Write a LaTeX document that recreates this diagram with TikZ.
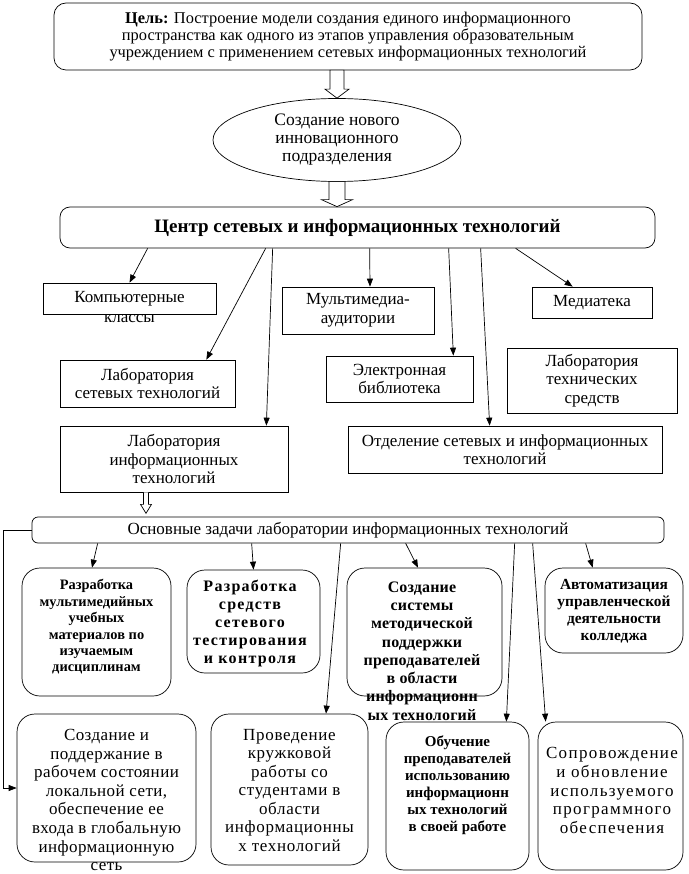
\documentclass[tikz,border=0pt]{standalone}
\usepackage{fontspec}
\setmainfont{Liberation Serif}
\usetikzlibrary{positioning, shapes.geometric, arrows.meta, calc}

\tikzset{
  box/.style={rectangle, draw, inner sep=1pt, align=center},
  capbox/.style={rectangle, draw, rounded corners=12pt, inner sep=1pt, align=center},
  taskbox/.style={rectangle, draw, rounded corners=18pt, inner sep=0pt},
  txt/.style={align=center, inner sep=0pt},
  arr/.style={-{Triangle[length=8pt,width=6pt]}},
  hollow/.style={draw, fill=white}
}

\begin{document}
\begin{tikzpicture}[x=1pt, y=-1pt, line width=0.7pt, font=\fontsize{17}{18.5}\selectfont]
\useasboundingbox (0,0) rectangle (688,874);

% Цель
\node[capbox, minimum width=588pt, minimum height=67pt, font=\fontsize{16.4}{17}\selectfont] (goal) at (348,36.5)
  {\textbf{Цель:} Построение модели создания единого информационного\\
   пространства как одного из этапов управления образовательным\\
   учреждением с применением сетевых информационных технологий};

% Новое подразделение
\node[ellipse, draw, minimum width=248pt, minimum height=83pt, inner sep=0pt, align=center, font=\fontsize{17.5}{18}\selectfont] (novoe) at (337,140)
  {Создание нового\\ инновационного\\ подразделения};

% Центр
\node[capbox, rounded corners=10pt, minimum width=595pt, minimum height=41pt, font=\bfseries\fontsize{19}{22}\selectfont] (centr) at (357.5,227.5)
  {Центр сетевых и информационных технологий};

% Подразделения центра
\node[box, minimum width=173pt, minimum height=31pt] (komp) at (129.5,298.5) {};
\node[txt, font=\fontsize{17}{20}\selectfont] (kompt) at (129.5,307) {Компьютерные\\ классы};
\node[box, minimum width=175pt, minimum height=47pt] (labset) at (147.5,383.5) {Лаборатория\\ сетевых технологий};
\node[box, minimum width=228pt, minimum height=66pt] (labinf) at (174,459) {Лаборатория\\ информационных\\ технологий};
\node[box, minimum width=152pt, minimum height=47pt] (multi) at (358,310.5) {Мультимедиа-\\ аудитории};
\node[box, minimum width=147pt, minimum height=46pt] (elib) at (399.5,379) {Электронная\\ библиотека};
\node[box, minimum width=314pt, minimum height=47pt] (otdel) at (505,449.5) {Отделение сетевых и информационных\\ технологий};
\node[box, minimum width=120pt, minimum height=31pt] (media) at (592,302.5) {Медиатека};
\node[box, minimum width=170pt, minimum height=65pt] (labtech) at (592,380.5) {Лаборатория\\ технических\\ средств};

\draw[arr] ([xshift=88pt]centr.south west) -- (komp.north);
\draw[arr] ([xshift=206pt]centr.south west) -- ([xshift=-29pt]labset.north east);
\draw[arr] ([xshift=213pt]centr.south west) -- ([xshift=-22pt]labinf.north east);
\draw[arr] ([xshift=310pt]centr.south west) -- ([xshift=12pt]multi.north);
\draw[arr] ([xshift=389pt]centr.south west) -- ([xshift=-20pt]elib.north east);
\draw[arr] ([xshift=421pt]centr.south west) -- ([xshift=142pt]otdel.north west);
\draw[arr] ([xshift=456pt]centr.south west) -- ([xshift=41pt]media.north west);

% Задачи лаборатории
\node[capbox, rounded corners=6pt, minimum width=632pt, minimum height=26pt] (zadachi) at (348,530)
  {Основные задачи лаборатории информационных технологий};

\node[taskbox, minimum width=149pt, minimum height=128pt] (r1) at (96.5,632) {};
\node[taskbox, minimum width=133pt, minimum height=103pt] (r2) at (253.5,621.5) {};
\node[taskbox, minimum width=155pt, minimum height=128pt] (r3) at (424.5,632) {};
\node[taskbox, minimum width=138pt, minimum height=85pt] (r4) at (614,610.5) {};
\node[taskbox, minimum width=179pt, minimum height=148pt] (r5) at (106.5,788) {};
\node[taskbox, minimum width=157pt, minimum height=151pt] (r6) at (289.5,789.5) {};
\node[taskbox, minimum width=143pt, minimum height=148pt] (r7) at (457.5,796) {};
\node[taskbox, minimum width=145pt, minimum height=148pt] (r8) at (610.5,796) {};

\node[txt, font=\bfseries\fontsize{14.4}{16.4}\selectfont] (r1t) at (96.5,627)
  {Разработка\\ мультимедийных\\ учебных\\ материалов по\\ изучаемым\\ дисциплинам};
\node[txt, font=\bfseries\fontsize{16}{18.2}\selectfont\addfontfeature{LetterSpace=8}] (r2t) at (250,623.5)
  {Разработка\\ средств\\ сетевого\\ тестирования\\ и контроля};
\node[txt, font=\bfseries\fontsize{16}{18.3}\selectfont\addfontfeature{LetterSpace=1}] (r3t) at (422,651)
  {Создание\\ системы\\ методической\\ поддержки\\ преподавателей\\ в области\\ информационн\\ ых технологий};
\node[txt, font=\bfseries\fontsize{15.4}{17}\selectfont] (r4t) at (614,611.5)
  {Автоматизация\\ управленческой\\ деятельности\\ колледжа};
\node[txt, font=\fontsize{17}{18.6}\selectfont\addfontfeature{LetterSpace=2.5}] (r5t) at (106.5,800)
  {Создание и\\ поддержание в\\ рабочем состоянии\\ локальной сети,\\ обеспечение ее\\ входа в глобальную\\ информационную\\ сеть};
\node[txt, font=\fontsize{17}{18.5}\selectfont\addfontfeature{LetterSpace=4}] (r6t) at (289.5,790.5)
  {Проведение\\ кружковой\\ работы со\\ студентами в\\ области\\ информационны\\ х технологий};
\node[txt, font=\bfseries\fontsize{15}{17}\selectfont] (r7t) at (457.5,785.5)
  {Обучение\\ преподавателей\\ использованию\\ информационн\\ ых технологий\\ в своей работе};
\node[txt, font=\fontsize{17}{18.75}\selectfont\addfontfeature{LetterSpace=8}] (r8t) at (612,790.5)
  {Сопровождение\\ и обновление\\ используемого\\ программного\\ обеспечения};

\draw[arr] ([xshift=66pt]zadachi.south west) -- ([xshift=-4.5pt]r1.north);
\draw[arr] ([xshift=220pt]zadachi.south west) -- (r2.north);
\draw[arr] ([xshift=309pt]zadachi.south west) -- ([xshift=36.5pt]r6.north);
\draw[arr] ([xshift=374pt]zadachi.south west) -- ([xshift=-6.5pt]r3.north);
\draw[arr] ([xshift=483pt]zadachi.south west) -- ([xshift=-23pt]r7.north east);
\draw[arr] ([xshift=501pt]zadachi.south west) -- ([xshift=8pt]r8.north west);
\draw[arr] ([xshift=554pt]zadachi.south west) -- ([xshift=48pt]r4.north west);
\draw[arr] (zadachi.west) -- ++(-28.5,0) |- (r5.west);

% Полые стрелки
\draw[hollow] (novoe.north) -- ++(-12,-9) -- ++(5,0) -- ++(0,-19) -- ++(14,0) -- ++(0,19) -- ++(5,0) -- cycle;
\draw[hollow] (novoe.south |- centr.north) -- ++(-15.5,-7) -- ++(7.5,0) -- ++(0,-18) -- ++(16,0) -- ++(0,18) -- ++(7.5,0) -- cycle;
\draw[hollow] ([xshift=-30.5pt]labinf.south) -- ++(0,12) -- ++(-3,0) -- ++(5.5,9) -- ++(5.5,-9) -- ++(-3,0) -- ++(0,-12);
\end{tikzpicture}
\end{document}
